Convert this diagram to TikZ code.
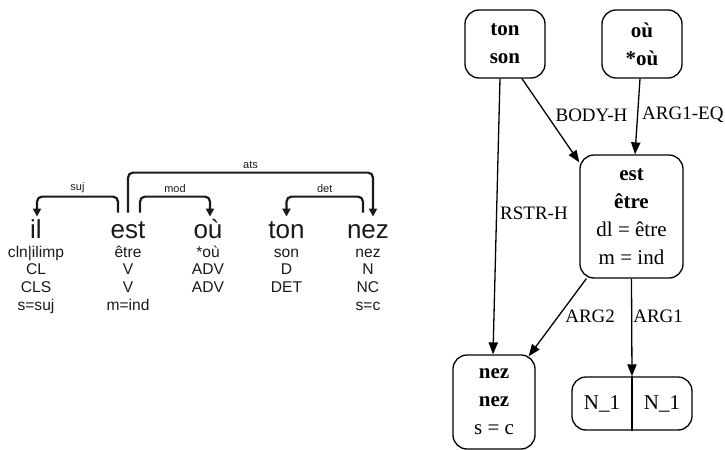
\documentclass[tikz,border=0pt]{standalone}
\usepackage{fontspec}
\setmainfont{Liberation Sans}
\newfontfamily\dagfont{Liberation Serif}
\usetikzlibrary{arrows.meta}
\definecolor{depInk}{HTML}{1A1A1A}
\tikzset{
  dep word/.style={anchor=base, inner sep=0pt, text height=10.5pt,
    text=depInk, font=\fontsize{13}{14}\selectfont},
  dep info/.style={anchor=base, inner sep=0pt, text=depInk,
    font=\fontsize{7.8}{9}\selectfont},
  dep arc/.style={draw=depInk, line width=1.1pt, rounded corners=2.5pt,
    -{Triangle[length=4pt,width=4pt]}, shorten <=2pt},
  dep label/.style={above=1.5pt, inner sep=0pt, text=depInk,
    font=\fontsize{5.5}{6}\selectfont},
  dag box/.style={draw, rounded corners=7pt, line width=0.65pt, align=center,
    inner sep=0pt, font=\dagfont\fontsize{10.5}{14}\selectfont},
  dag edge/.style={draw, line width=0.65pt, -{Triangle[length=6pt,width=4.6pt]}},
  dag label/.style={anchor=west, inner sep=0pt,
    font=\dagfont\fontsize{9.5}{12}\selectfont}
}
% one token of the dependency tree: word and its four feature rows
\newcommand{\DepToken}[7]{%
  \node[dep word] (#1) at (#2,238) {#3};
  \node[dep info] (#1-1) at (#2,257) {#4};
  \node[dep info] (#1-2) at (#2,274.7) {#5};
  \node[dep info] (#1-3) at (#2,292.4) {#6};
  \node[dep info] (#1-4) at (#2,310) {#7};
}

\begin{document}
\begin{tikzpicture}[x=0.5pt,y=-0.5pt]
  \useasboundingbox (0,0) rectangle (725,450);

  % dependency tree
  \DepToken{il}{36}{il}{cln|ilimp}{CL}{CLS}{s=suj}
  \DepToken{est}{128}{est}{être}{V}{V}{m=ind}
  \DepToken{ou}{208}{où}{*où}{ADV}{ADV}{}
  \DepToken{ton}{286.5}{ton}{son}{D}{DET}{}
  \DepToken{nez}{368}{nez}{nez}{N}{NC}{s=c}

  \draw[dep arc] ([xshift=-5pt]est.north) -- ++(0,-20)
    -| node[dep label,pos=0.25] {suj} ([xshift=0.5pt]il.north);
  \draw[dep arc] ([xshift=6pt]est.north) -- ++(0,-20)
    -| node[dep label,pos=0.25] {mod} ([xshift=1pt]ou.north);
  \draw[dep arc] ([xshift=-2.5pt]nez.north) -- ++(0,-20)
    -| node[dep label,pos=0.25] {det} (ton.north);
  \draw[dep arc] (est.north) -- ++(0,-44)
    -| node[dep label,pos=0.25] {ats} ([xshift=2.5pt]nez.north);

  % semantic graph
  \node[dag box, minimum width=40pt, minimum height=34pt] (tonbox) at (505,44)
    {\textbf{ton}\\\textbf{son}};
  \node[dag box, minimum width=40pt, minimum height=34pt] (oubox) at (642,44)
    {\textbf{où}\\\textbf{*où}};
  \node[dag box, minimum width=51.5pt, minimum height=61.5pt] (estbox) at (631.5,216.5)
    {\textbf{est}\\\textbf{être}\\dl = être\\m = ind};
  \node[dag box, minimum width=41pt, minimum height=47pt] (nezbox) at (494,402)
    {\textbf{nez}\\\textbf{nez}\\s = c};
  \node[dag box, minimum width=60pt, minimum height=26.5pt] (argbox) at (632,403.5) {};
  \node[inner sep=0pt, font=\dagfont\fontsize{10.5}{14}\selectfont] (argleft)
    at ([xshift=-15pt]argbox.center) {N\_1};
  \node[inner sep=0pt, font=\dagfont\fontsize{10.5}{14}\selectfont] (argright)
    at ([xshift=15pt]argbox.center) {N\_1};
  \draw[line width=0.65pt] (argbox.north) -- (argbox.south);

  \draw[dag edge] ([xshift=8.5pt]tonbox.south)
    -- node[dag label,pos=0.435,xshift=4pt] {BODY-H} ([yshift=-4pt]estbox.north west);
  \draw[dag edge] ([xshift=-2.5pt]tonbox.south)
    -- node[dag label,pos=0.49,xshift=1.5pt] {RSTR-H} ([xshift=-0.5pt]nezbox.north);
  \draw[dag edge] ([xshift=-1pt]oubox.south)
    -- node[dag label,pos=0.48,xshift=2pt] {ARG1-EQ} ([xshift=1.75pt]estbox.north);
  \draw[dag edge] ([xshift=3.5pt]estbox.south west)
    -- node[dag label,pos=0.48,xshift=3pt] {ARG2} ([shift={(-3.5pt,-1pt)}]nezbox.north east);
  \draw[dag edge] (estbox.south)
    -- node[dag label,pos=0.39,xshift=0.5pt] {ARG1} (argbox.north);
\end{tikzpicture}
\end{document}
